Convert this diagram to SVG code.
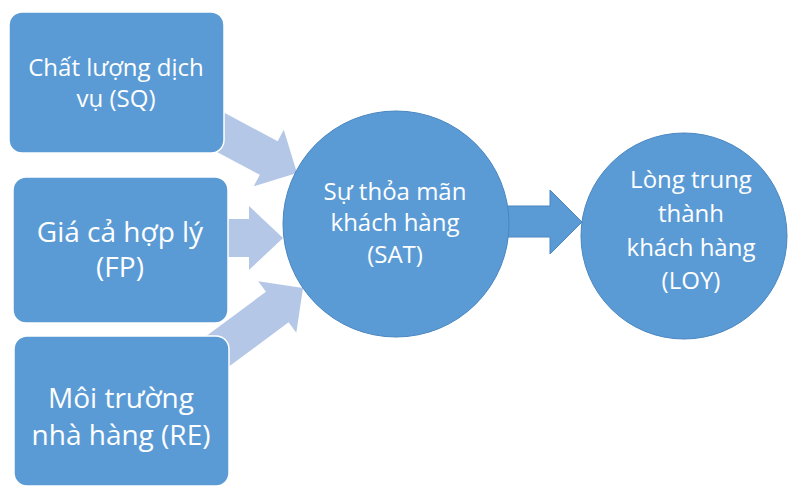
<svg xmlns="http://www.w3.org/2000/svg" width="788" height="488" viewBox="0 0 788 488">
<style>
.node{fill:#5B9BD5;stroke:#FFFFFF;stroke-width:1.5}
.circ{fill:#5B9BD5;stroke:#4A86C0;stroke-width:1}
.la{fill:#B4C7E7}
.da{fill:#5B9BD5;stroke:#4A86C0;stroke-width:1}
text{font-family:"Open Sans","Liberation Sans",sans-serif;fill:#FFFFFF;text-anchor:middle}
</style>
<rect width="788" height="488" fill="#FFFFFF"/>
<g id="connectors">
<polygon class="la" transform="translate(297,173) rotate(28)" points="-95,-19 -32,-19 -32,-32 0,0 -32,32 -32,19 -95,19"/>
<polygon class="la" points="212,219 249,219 249,206 283,238 249,270 249,257 212,257"/>
<polygon class="la" transform="translate(303,288) rotate(-36.5)" points="-115,-19 -32,-19 -32,-32 0,0 -32,32 -32,19 -115,19"/>
<polygon class="da" points="500,206 550,206 550,190 582,222 550,254 550,237 500,237"/>
</g>
<g id="SQ">
<rect class="node" x="9" y="12" width="215" height="141" rx="13"/>
<text font-size="24"><tspan x="116" y="76">Chất lượng dịch</tspan><tspan x="116" y="107">vụ (SQ)</tspan></text>
</g>
<g id="FP">
<rect class="node" x="13" y="177" width="215" height="146" rx="13"/>
<text font-size="28"><tspan x="120" y="242">Giá cả hợp lý</tspan><tspan x="120" y="277">(FP)</tspan></text>
</g>
<g id="RE">
<rect class="node" x="14" y="336" width="215" height="150" rx="13"/>
<text font-size="28"><tspan x="121" y="408">Môi trường</tspan><tspan x="121" y="445">nhà hàng (RE)</tspan></text>
</g>
<g id="SAT">
<circle class="circ" cx="396" cy="224" r="113"/>
<text font-size="24"><tspan x="395" y="200">Sự thỏa mãn</tspan><tspan x="395" y="231">khách hàng</tspan><tspan x="395" y="263">(SAT)</tspan></text>
</g>
<g id="LOY">
<circle class="circ" cx="684" cy="236" r="103"/>
<text font-size="24"><tspan x="691" y="188">Lòng trung</tspan><tspan x="691" y="222">thành</tspan><tspan x="691" y="256">khách hàng</tspan><tspan x="691" y="289">(LOY)</tspan></text>
</g>
</svg>
